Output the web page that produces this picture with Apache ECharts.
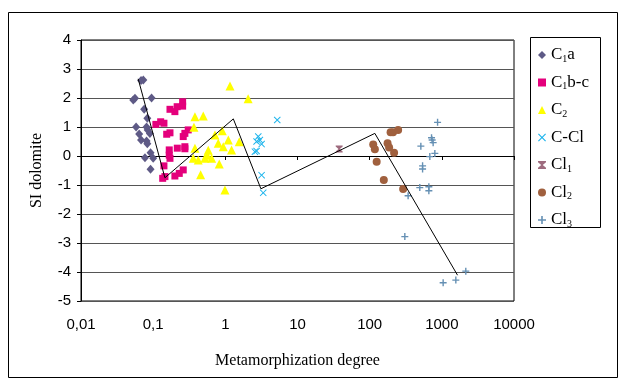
<!DOCTYPE html>
<html>
<head>
<meta charset="utf-8">
<script src="https://cdn.jsdelivr.net/npm/echarts@6/dist/echarts.min.js"></script>
<style>
  html, body { margin: 0; padding: 0; background: #fff; }
  #chart { width: 621px; height: 381px; }
</style>
</head>
<body>
<div id="chart"></div>
<script>
// x = metamorphization degree (log scale), y = SI dolomite
const c1a = [
  [0.068, 2.6], [0.073, 2.62], [0.053, 1.93], [0.056, 1.99], [0.095, 2.0],
  [0.075, 1.61], [0.083, 1.3], [0.058, 1.0], [0.081, 1.0], [0.084, 0.9],
  [0.064, 0.76], [0.09, 0.78], [0.068, 0.55], [0.081, 0.52], [0.083, 0.42],
  [0.092, 0.11], [0.077, -0.06], [0.1, -0.08], [0.092, -0.46]
];
const c1bc = [
  [0.256, 1.87], [0.256, 1.72], [0.215, 1.7], [0.2, 1.53], [0.171, 1.61],
  [0.109, 1.09], [0.127, 1.18], [0.141, 1.13], [0.171, 0.8], [0.154, 0.75],
  [0.275, 0.78], [0.306, 0.9], [0.261, 0.67], [0.167, 0.21], [0.167, 0.03],
  [0.171, -0.08], [0.216, 0.27], [0.275, 0.32], [0.275, 0.25], [0.141, -0.34],
  [0.261, -0.48], [0.23, -0.6], [0.2, -0.69], [0.1355, -0.77], [0.1456, -0.71]
];
const c2 = [
  [1.16, 2.41], [2.07, 1.97], [0.379, 1.35], [0.494, 1.38], [0.367, 0.99],
  [0.906, 0.87], [0.718, 0.72], [1.1, 0.55], [0.798, 0.44], [0.935, 0.32],
  [1.22, 0.21], [1.56, 0.49], [0.379, 0.27], [0.58, 0.2], [0.561, 0.03],
  [0.646, -0.08], [0.521, -0.08], [0.421, -0.14], [0.359, -0.08], [0.823, -0.28],
  [0.455, -0.65], [0.987, -1.17]
];
const cCl = [
  [5.24, 1.24], [2.86, 0.67], [3.01, 0.55], [2.71, 0.5], [3.18, 0.41],
  [2.57, 0.15], [2.71, 0.17], [3.18, -0.66], [3.35, -1.27]
];
const cl1 = [[37.8, 0.24]];
const cl2 = [
  [195, 0.82], [211, 0.82], [248, 0.9], [112, 0.4], [118, 0.23], [177, 0.44],
  [186, 0.29], [218, 0.11], [125, -0.2], [157, -0.83], [291, -1.14]
];
const cl3 = [
  [873, 1.16], [720, 0.63], [734, 0.55], [758, 0.46], [512, 0.34], [800, 0.09],
  [682, -0.02], [541, -0.34], [541, -0.45], [495, -1.09], [661, -1.06], [661, -1.2],
  [341, -1.37], [307, -2.78], [2148, -3.97], [1563, -4.28], [1043, -4.37]
];
const trendLine = [
  [0.062, 2.66], [0.1455, -0.75], [1.29, 1.28], [3.11, -1.13], [118, 0.78], [1650, -4.11]
];

const legendLabels = {
  "C1a": "C{s|1}a",
  "C1b-c": "C{s|1}b-c",
  "C2": "C{s|2}",
  "C-Cl": "C-Cl",
  "Cl1": "Cl{s|1}",
  "Cl2": "Cl{s|2}",
  "Cl3": "Cl{s|3}",
};

const xSymbol = "path://M0,1L1,0L5,4L9,0L10,1L6,5L10,9L9,10L5,6L1,10L0,9L4,5Z";
const plusSymbol = "path://M4,0H6V4H10V6H6V10H4V6H0V4H4Z";
const hourglassSymbol = "path://M0,0H10V1.5L6,5L10,8.5V10H0V8.5L4,5L0,1.5Z";

function scatter(name, data, symbol, size, color) {
  return {
    name: name,
    type: "scatter",
    data: data,
    symbol: symbol,
    symbolSize: size,
    itemStyle: { color: color, opacity: 1 },
    z: 3,
  };
}

const chart = echarts.init(document.getElementById("chart"));
chart.setOption({
  animation: false,
  backgroundColor: "#fff",
  grid: {
    left: 81,
    top: 40,
    width: 433,
    height: 261,
    show: true,
    borderColor: "#000",
    borderWidth: 1,
  },
  xAxis: {
    type: "log",
    logBase: 10,
    min: 0.01,
    max: 10000,
    name: "Metamorphization degree",
    nameLocation: "middle",
    nameGap: 52,
    nameTextStyle: { fontFamily: "Liberation Serif", fontSize: 16, color: "#000" },
    axisLine: { lineStyle: { color: "#000", width: 1 } },
    axisTick: { show: true, length: 4, lineStyle: { color: "#000" } },
    minorTick: { show: false },
    splitLine: { show: false },
    axisLabel: {
      color: "#000",
      fontFamily: "Liberation Sans",
      fontSize: 15,
      margin: 16,
      formatter: (v) => String(+Number(v).toPrecision(6)).replace(".", ","),
    },
  },
  yAxis: {
    type: "value",
    min: -5,
    max: 4,
    interval: 1,
    name: "SI dolomite",
    nameLocation: "middle",
    nameGap: 36,
    nameTextStyle: { fontFamily: "Liberation Serif", fontSize: 16, color: "#000" },
    axisLine: { show: true, lineStyle: { color: "#000", width: 1 } },
    axisTick: { show: true, length: 4, lineStyle: { color: "#000" } },
    splitLine: { show: true, lineStyle: { color: "#555", width: 1 } },
    axisLabel: {
      color: "#000",
      fontFamily: "Liberation Sans",
      fontSize: 15,
      margin: 10,
    },
  },
  legend: {
    orient: "vertical",
    left: 538,
    top: 45,
    padding: 0,
    itemWidth: 8,
    itemHeight: 8,
    itemGap: 7.5,
    data: ["C1a", "C1b-c", "C2", "C-Cl", "Cl1", "Cl2", "Cl3"],
    formatter: (name) => legendLabels[name],
    textStyle: {
      fontFamily: "Liberation Serif",
      fontSize: 17,
      color: "#000",
      lineHeight: 20,
      rich: {
        s: { fontFamily: "Liberation Serif", fontSize: 10, padding: [8, 0, 0, 0] },
      },
    },
  },
  graphic: [
    {
      type: "rect",
      shape: { x: 8.5, y: 12.5, width: 609, height: 365 },
      style: { fill: null, stroke: "#000", lineWidth: 1 },
      silent: true,
    },
    {
      type: "rect",
      shape: { x: 530.5, y: 37.5, width: 70, height: 190 },
      style: { fill: null, stroke: "#000", lineWidth: 1 },
      silent: true,
    },
  ],
  series: [
    {
      name: "trend",
      type: "line",
      data: trendLine,
      symbol: "none",
      lineStyle: { color: "#000", width: 1 },
      z: 4,
    },
    scatter("C1a", c1a, "diamond", [8, 9], "#5e5a86"),
    scatter("C1b-c", c1bc, "rect", 7, "#e4007c"),
    scatter("C2", c2, "triangle", 9, "#ffff00"),
    scatter("C-Cl", cCl, xSymbol, 7, "#1cb4ec"),
    scatter("Cl1", cl1, hourglassSymbol, 7, "#9e6b7e"),
    scatter("Cl2", cl2, "circle", 8, "#a0603e"),
    scatter("Cl3", cl3, plusSymbol, 7, "#6590b4"),
  ],
});
</script>
</body>
</html>
